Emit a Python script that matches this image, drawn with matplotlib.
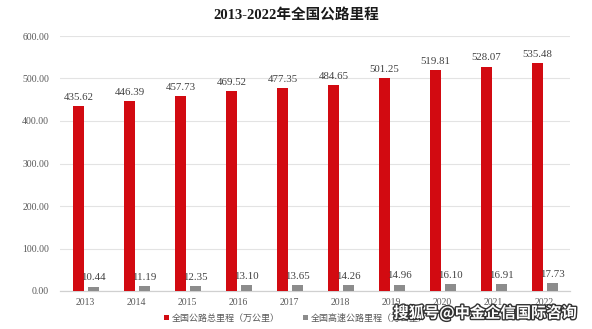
import matplotlib
matplotlib.use('Agg')
import matplotlib.pyplot as plt
import matplotlib.patheffects as pe
import numpy as np

years = ['2013', '2014', '2015', '2016', '2017', '2018', '2019', '2020', '2021', '2022']
total_km = [435.62, 446.39, 457.73, 469.52, 477.35, 484.65, 501.25, 519.81, 528.07, 535.48]
highway_km = [10.44, 11.19, 12.35, 13.10, 13.65, 14.26, 14.96, 16.10, 16.91, 17.73]
series_names = ['全国公路总里程（万公里）', '全国高速公路里程（万公里）']
yticks = [0, 100, 200, 300, 400, 500, 600]

fonts = ['Liberation Serif', 'Noto Sans CJK SC', 'DejaVu Sans']
plt.rcParams['font.family'] = fonts

red = '#d20a11'
grey = '#8c8c8c'

fig = plt.figure(figsize=(5.92, 3.29), dpi=100)
ax = fig.add_axes([60 / 592, 1 - 291 / 329, 510 / 592, 255 / 329])

x = np.arange(len(years))
w = 0.21
b1 = ax.bar(x - 0.135, total_km, w, color=red, label=series_names[0], zorder=3)
b2 = ax.bar(x + 0.155, highway_km, w, color=grey, label=series_names[1], zorder=3)

# value labels above each bar
for bars, vals in ((b1, total_km), (b2, highway_km)):
    for rect, v in zip(bars, vals):
        ax.annotate(f'{v:.2f}', (rect.get_x() + rect.get_width() / 2, v),
                    xytext=(0, 3), textcoords='offset points', ha='center', va='bottom',
                    fontsize=7.8, color='#404040')

ax.set_xlim(-0.5, len(years) - 0.5)
ax.set_ylim(0, 600)
ax.set_yticks(yticks)
ax.set_yticklabels([f'{t:.2f}' for t in yticks])
ax.set_xticks(x)
ax.set_xticklabels(years)
ax.tick_params(axis='both', length=0, labelsize=7, labelcolor='#595959')
ax.tick_params(axis='y', pad=8)
ax.tick_params(axis='x', pad=5)
ax.grid(axis='y', color='#e3e3e3', linewidth=0.8, zorder=0)
for s in ['top', 'left', 'right']:
    ax.spines[s].set_visible(False)
ax.spines['bottom'].set_color('#d0d0d0')
ax.spines['bottom'].set_linewidth(0.9)

fig.text(0.5, 1 - 15 / 329, '2013-2022年全国公路里程', ha='center', va='center',
         fontsize=10.5, fontweight='bold', color='#1a1a1a')

leg = fig.legend(handles=[b1, b2], labels=series_names, loc='center',
                 bbox_to_anchor=(0.5, 1 - 318 / 329), ncol=2, frameon=False,
                 fontsize=6.5, handlelength=0.55, handleheight=0.55,
                 handletextpad=0.3, columnspacing=2.6)
for t in leg.get_texts():
    t.set_color('#595959')

fig.text(485 / 592, 1 - 313 / 329, '搜狐号@中金企信国际咨询', ha='center', va='center',
         fontsize=11, fontweight='bold', color='white',
         family=['Noto Sans CJK SC', 'DejaVu Sans'],
         path_effects=[pe.withStroke(linewidth=2, foreground='#333333')], zorder=10)

fig.savefig('out.png', dpi=100, facecolor='white')
